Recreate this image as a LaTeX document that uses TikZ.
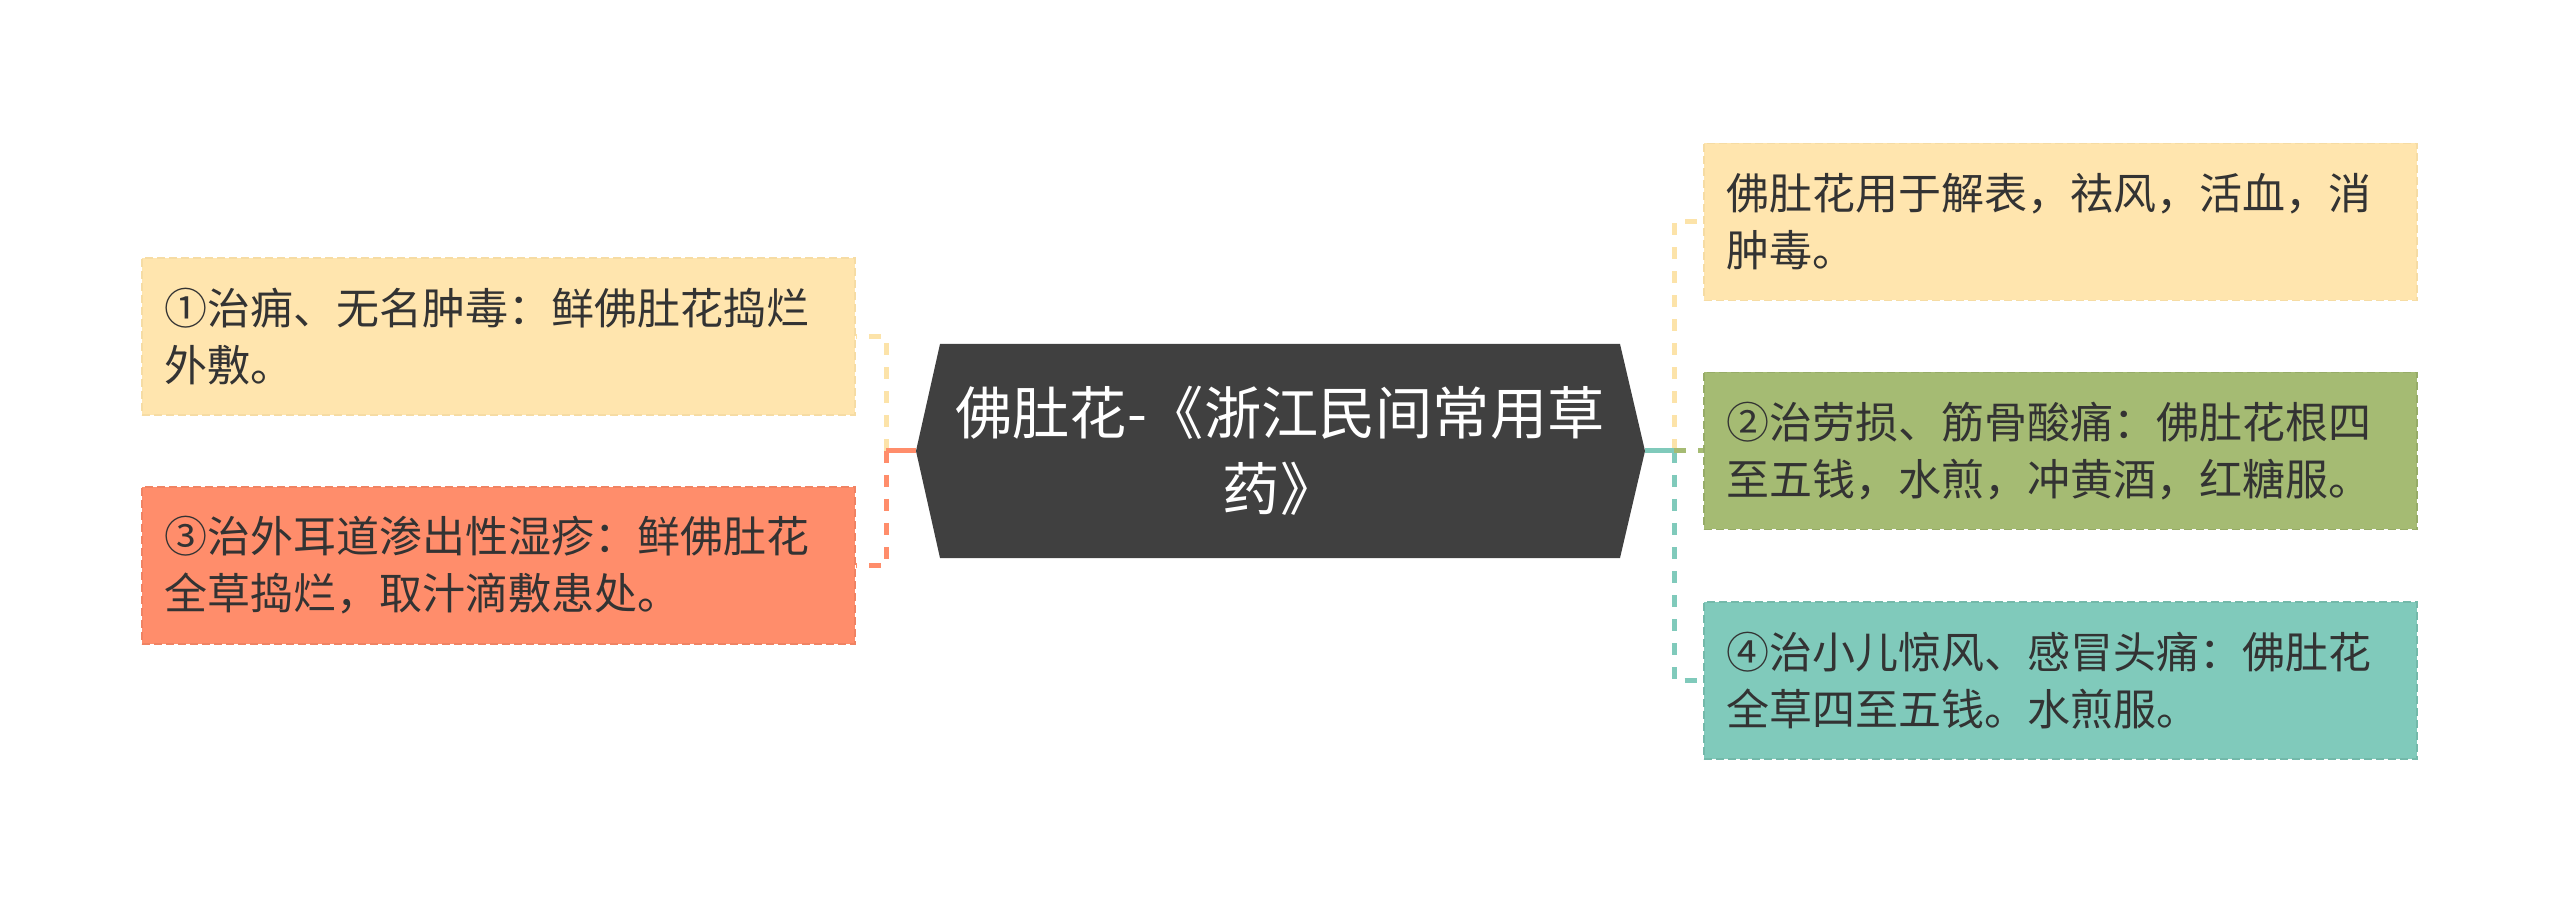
\documentclass[tikz,border=0pt]{standalone}
\usepackage{fontspec}
\newfontfamily\cjk{Noto Sans CJK SC}
\definecolor{cyel}{HTML}{FFE5AE}
\definecolor{cyelb}{HTML}{F6DCA4}
\definecolor{cyell}{HTML}{FCE3A9}
\definecolor{cora}{HTML}{FF8D6B}
\definecolor{corab}{HTML}{F08363}
\definecolor{cgre}{HTML}{A5BB73}
\definecolor{cgreb}{HTML}{97AC68}
\definecolor{ctea}{HTML}{80CABB}
\definecolor{cteab}{HTML}{74B9AA}
\definecolor{croot}{HTML}{404040}
\definecolor{ctext}{HTML}{333333}
\begin{document}
\begin{tikzpicture}[x=0.5pt,y=-0.5pt,
  leaf/.style={rectangle, minimum width=356.5pt, minimum height=78.5pt,
    inner xsep=11pt, text width=334.5pt, align=left, text=ctext,
    font=\cjk\fontsize{21.5pt}{28.5pt}\selectfont,
    line width=0.8pt, dash pattern=on 4pt off 2pt},
  conn/.style={line width=2.5pt, dash pattern=on 6pt off 6pt},
  stem/.style={line width=2.5pt},
  roottext/.style={text=white, align=center, inner sep=0pt,
    font=\cjk\fontsize{28.6pt}{38pt}\selectfont}]
\useasboundingbox[fill=white] (0,0) rectangle (2560,903);

% root hexagon
\fill[croot] (916,451) -- (940,344) -- (1620,344) -- (1645,451) -- (1620,558) -- (940,558) -- cycle;
\node[roottext] (root) at (1280,451) {佛肚花-《浙江民间常用草\\药》};
\coordinate (rootW) at (916,451);
\coordinate (rootE) at (1645,451);
\coordinate (JL) at (886,451);
\coordinate (JR) at (1674,451);

% left leaves
\node[leaf, fill=cyel, draw=cyelb] (L1) at (498.5,336.5) {①治痈、无名肿毒：鲜佛肚花捣烂\\外敷。};
\node[leaf, fill=cora, draw=corab] (L3) at (498.5,565.5) {③治外耳道渗出性湿疹：鲜佛肚花\\全草捣烂，取汁滴敷患处。};

% right leaves
\node[leaf, fill=cyel, draw=cyelb] (R1) at (2060.5,222) {佛肚花用于解表，祛风，活血，消\\肿毒。};
\node[leaf, fill=cgre, draw=cgreb] (R2) at (2060.5,451) {②治劳损、筋骨酸痛：佛肚花根四\\至五钱，水煎，冲黄酒，红糖服。};
\node[leaf, fill=ctea, draw=cteab] (R4) at (2060.5,680.5) {④治小儿惊风、感冒头痛：佛肚花\\全草四至五钱。水煎服。};

% connectors left
\draw[conn, cyell] (JL) |- (L1.east);
\draw[conn, cora] (JL) |- (L3.east);
\draw[stem, cora] (rootW) -- (JL);

% connectors right
\draw[conn, cyell] (JR) |- (R1.west);
\draw[conn, ctea] (JR) |- (R4.west);
\draw[conn, cgre] (JR) -- (R2.west);
\draw[stem, ctea] (rootE) -- (JR);
\end{tikzpicture}
\end{document}
